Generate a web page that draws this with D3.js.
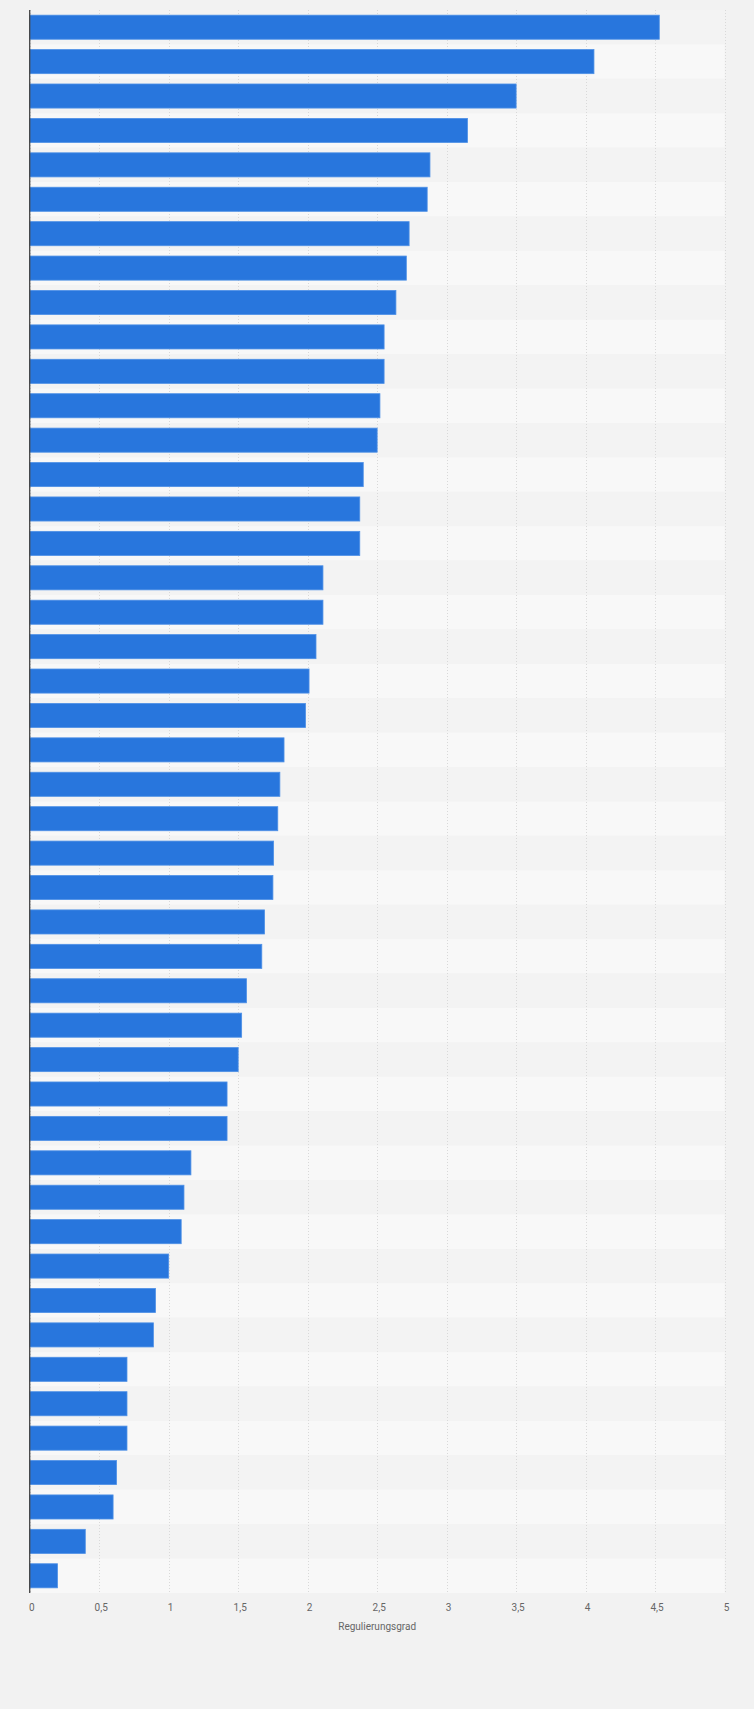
<!DOCTYPE html>
<html><head><meta charset="utf-8">
<script src="https://cdn.jsdelivr.net/npm/d3@7"></script>
<style>
html,body{margin:0;padding:0;background:#f2f2f2;}
svg{display:block;}
</style></head>
<body>
<svg id="chart" width="754" height="1709"></svg>
<script>
const categories = Array.from({length: 46}, (_, i) => "Land " + (i + 1));
const values = [4.53, 4.06, 3.50, 3.15, 2.88, 2.86, 2.73, 2.71, 2.635, 2.55,
  2.55, 2.52, 2.50, 2.40, 2.375, 2.375, 2.11, 2.11, 2.06, 2.01,
  1.985, 1.83, 1.80, 1.785, 1.755, 1.75, 1.69, 1.67, 1.56, 1.525,
  1.50, 1.42, 1.42, 1.16, 1.11, 1.09, 1.00, 0.905, 0.89, 0.70,
  0.70, 0.70, 0.625, 0.60, 0.40, 0.20];
const xTicks = [0, 0.5, 1, 1.5, 2, 2.5, 3, 3.5, 4, 4.5, 5];
const xTitle = "Regulierungsgrad";

const data = categories.map((c, i) => ({cat: c, val: values[i]}));
const svg = d3.select("#chart");
const mLeft = 29.7, mRight = 724.6, mTop = 10, mBottom = 1593;

const x = d3.scaleLinear().domain([0, 5]).range([mLeft, mRight]);
const y = d3.scaleBand().domain(categories).range([mTop, mBottom])
  .paddingInner(0.3).paddingOuter(0.15);
const step = y.step();
const off = (step - y.bandwidth()) / 2;

// stripes
svg.append("g").selectAll("rect").data(data).join("rect")
  .attr("x", mLeft).attr("width", mRight - mLeft)
  .attr("y", d => y(d.cat) - off).attr("height", step)
  .attr("fill", (d, i) => i % 2 ? "#f8f8f8" : "#f3f3f3");

// grid
svg.append("g").selectAll("line").data(xTicks).join("line")
  .attr("x1", d => Math.round(x(d)) + 0.5).attr("x2", d => Math.round(x(d)) + 0.5)
  .attr("y1", mTop).attr("y2", mBottom)
  .attr("stroke", "#d9d9d9").attr("stroke-width", 1)
  .attr("stroke-dasharray", "1,2");

// bars
svg.append("g").selectAll("rect").data(data).join("rect")
  .attr("x", x(0)).attr("y", d => y(d.cat))
  .attr("width", d => x(d.val) - x(0)).attr("height", y.bandwidth())
  .attr("fill", "#2876dd").attr("stroke", "#4f91e6").attr("stroke-width", 0.8);

// y axis line
svg.append("line").attr("x1", mLeft).attr("x2", mLeft).attr("y1", mTop).attr("y2", mBottom)
  .attr("stroke", "#444").attr("stroke-width", 1.3);

// x axis labels
const xAxis = d3.axisBottom(x).tickValues(xTicks).tickSize(0)
  .tickFormat(d => String(d).replace(".", ","));
const gx = svg.append("g").attr("transform", `translate(1.5,${mBottom + 8})`).call(xAxis);
gx.select(".domain").remove();
gx.selectAll("text").attr("fill", "#666").style("font-family", "Roboto, sans-serif")
  .style("font-size", "10px");

svg.append("text").attr("x", (mLeft + mRight) / 2).attr("y", 1629.5)
  .attr("text-anchor", "middle").attr("fill", "#666")
  .style("font-family", "Roboto, sans-serif").style("font-size", "10px")
  .text(xTitle);
</script>
</body></html>
